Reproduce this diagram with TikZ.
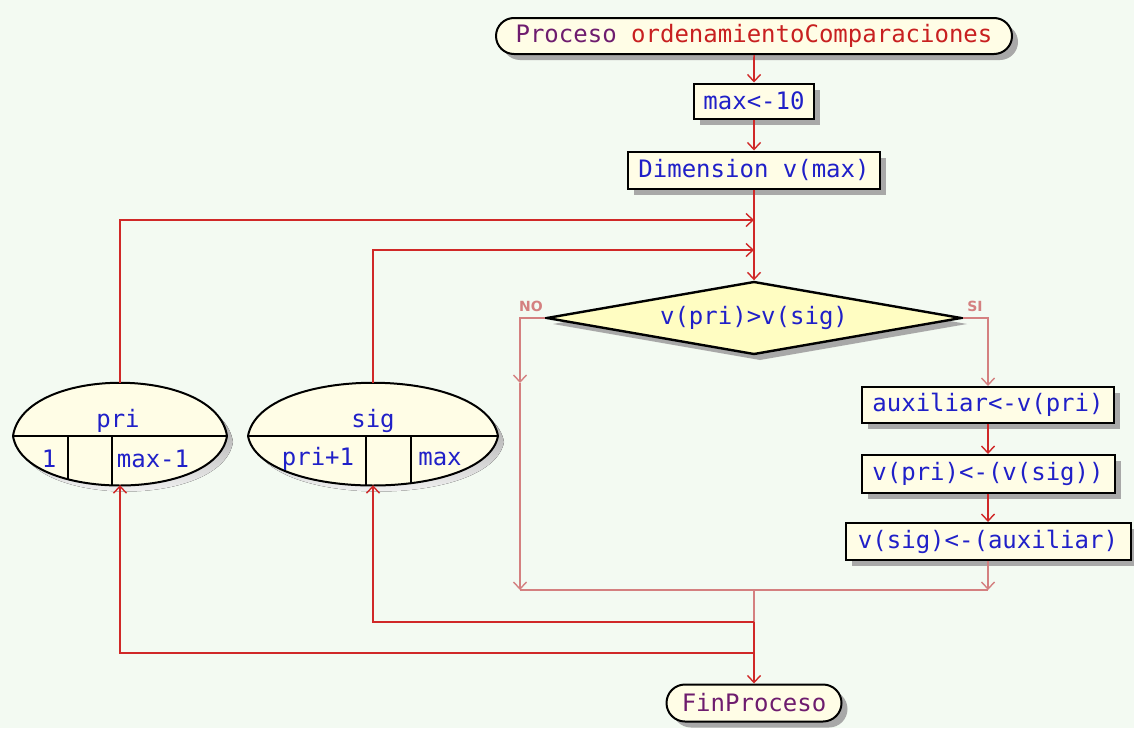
\documentclass[tikz,border=0pt]{standalone}
\usepackage{fontspec}
\newfontfamily\pixfont{DejaVu Sans Mono}
\newfontfamily\lblfont{DejaVu Sans}
\usetikzlibrary{arrows.meta,shapes.geometric,shapes.misc,shadows}

\definecolor{bg}{HTML}{F3FAF2}
\definecolor{boxfill}{HTML}{FFFDE6}
\definecolor{diafill}{HTML}{FFFDC2}
\definecolor{shade}{HTML}{A8A8A8}
\definecolor{flowred}{HTML}{D02828}
\definecolor{flowrose}{HTML}{D48080}
\definecolor{txtblue}{HTML}{2020C8}
\definecolor{txtpurple}{HTML}{6E1C6E}
\definecolor{txtred}{HTML}{C82020}

% lens-shaped loop header: #1 left x, #2 right x, #3 divider y
\newcommand{\lenspath}[3]{(#1,#3) .. controls ({#1+0.05*(#2-#1)},{#3-71}) and ({#2-0.05*(#2-#1)},{#3-71}) .. (#2,#3)
  .. controls ({#2-0.05*(#2-#1)},{#3+66}) and ({#1+0.05*(#2-#1)},{#3+66}) .. (#1,#3) -- cycle}

\begin{document}
\begin{tikzpicture}[x=1pt,y=-1pt,
  pix/.style={font=\pixfont\fontsize{24}{28}\selectfont},
  shad/.style={drop shadow={shadow xshift=6pt,shadow yshift=-6pt,fill=shade,opacity=1}},
  stepbox/.style={pix,draw=black,line width=2pt,fill=boxfill,shad,inner sep=0pt,text=txtblue},
  term/.style={pix,rounded rectangle,draw=black,line width=2pt,fill=boxfill,shad,inner sep=0pt,text=txtpurple},
  decide/.style={pix,diamond,draw=black,line width=2.4pt,fill=diafill,shad,inner sep=0pt,text=txtblue},
  loopbox/.style={draw=none,fill=none,inner sep=0pt},
  looptxt/.style={pix,text=txtblue,inner sep=0pt},
  arr/.style={-{Straight Barb[length=7pt,width=13pt,line width=1.4pt]}},
  redline/.style={draw=flowred,line width=1.6pt},
  roseline/.style={draw=flowrose,line width=1.8pt},
  branch/.style={font=\lblfont\bfseries\fontsize{14}{16}\selectfont,text=flowrose,inner sep=0pt}]

\fill[bg] (0,0) rectangle (1134,728);
\useasboundingbox (0,0) rectangle (1134,728);

% main column
\node[term,minimum width=516,minimum height=36] (start) at (754,36)
  {Proceso \textcolor{txtred}{ordenamientoComparaciones}};
\node[stepbox,minimum width=120,minimum height=35] (m10) at (754,101) {max<-10};
\node[stepbox,minimum width=252,minimum height=37] (dim) at (754,170) {Dimension v(max)};
\node[decide,minimum width=415,minimum height=73,aspect=5.7] (dia) at (754,318) {v(pri)>v(sig)};

% right branch
\node[stepbox,minimum width=252,minimum height=36] (aux) at (988,405) {auxiliar<-v(pri)};
\node[stepbox,minimum width=253,minimum height=38] (vp) at (988,474) {v(pri)<-(v(sig))};
\node[stepbox,minimum width=285,minimum height=37] (vs) at (988,541.5) {v(sig)<-(auxiliar)};

\node[term,minimum width=175,minimum height=37] (fin) at (754,703) {FinProceso};

% loop headers (lens outline with a row of three cells)
\node[loopbox,minimum width=214,minimum height=102] (pri) at (120,434) {};
\node[loopbox,minimum width=250,minimum height=102] (sig) at (373,434) {};
\fill[shade] [shift={(6,6)}] \lenspath{13}{227}{436};
\fill[shade] [shift={(6,6)}] \lenspath{248}{498}{436};
\fill[boxfill] \lenspath{13}{227}{436};
\fill[boxfill] \lenspath{248}{498}{436};
\begin{scope}
  \clip \lenspath{13}{227}{436};
  \draw[black,line width=2pt] (0,436) -- (240,436);
  \draw[black,line width=2pt] (68,436) -- (68,500);
  \draw[black,line width=2pt] (112,436) -- (112,500);
\end{scope}
\begin{scope}
  \clip \lenspath{248}{498}{436};
  \draw[black,line width=2pt] (240,436) -- (510,436);
  \draw[black,line width=2pt] (366,436) -- (366,500);
  \draw[black,line width=2pt] (411,436) -- (411,500);
\end{scope}
\draw[black,line width=2pt,line join=round] \lenspath{13}{227}{436};
\draw[black,line width=2pt,line join=round] \lenspath{248}{498}{436};
\node[looptxt] (prin) at (118,421) {pri};
\node[looptxt] (pria) at (49,459) {1};
\node[looptxt] (prib) at (153,459) {max-1};
\node[looptxt] (sign) at (373,421) {sig};
\node[looptxt] (siga) at (318,459) {pri+1};
\node[looptxt] (sigb) at (440,459) {max};

\node[branch] (nolbl) at (531,306) {NO};
\node[branch] (silbl) at (975,306) {SI};

% junction points
\coordinate (j1) at (754,220);
\coordinate (j2) at (754,250);
\coordinate (nomid) at (520,383);
\coordinate (nb) at (520,590);
\coordinate (sb) at (988,590);
\coordinate (mg) at (754,590);
\coordinate (r2) at (754,622);
\coordinate (r1) at (754,653);

% connectors
\draw[redline,arr] (start) -- (m10);
\draw[redline,arr] (m10) -- (dim);
\draw[redline,arr] (dim.south) -- (dia.north);
\draw[redline,arr] (pri.north) |- (j1);
\draw[redline,arr] (sig.north) |- (j2);

\draw[roseline,arr] (dia.west) -| (nomid);
\draw[roseline,arr] (nomid) -- (nb);
\draw[roseline,arr] (dia.east) -| (aux.north);
\draw[redline,arr] (aux) -- (vp);
\draw[redline,arr] (vp) -- (vs);
\draw[roseline,arr] (vs.south) -- (sb);
\draw[roseline] (nb) -- (sb);
\draw[roseline] (mg) -- (r2);
\draw[redline,arr] (r2) -- (fin.north);
\draw[redline,arr] (r2) -| (sig.south);
\draw[redline,arr] (r1) -| (pri.south);
\end{tikzpicture}
\end{document}
